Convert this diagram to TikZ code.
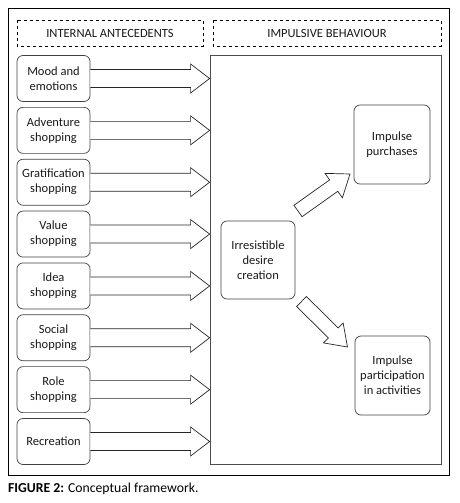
\documentclass[tikz,border=0pt]{standalone}
\usepackage{fontspec}
\setmainfont{Carlito}
\usetikzlibrary{calc}
\newcommand\blockarr[6]{% tail, tip, shaft hw, head hw, head length, closing
  \coordinate (hb) at ($(#2)!#5!(#1)$);
  \draw[arr] ($(#1)!#3!90:(#2)$) -- ($(hb)!#3!90:(#2)$) -- ($(hb)!#4!90:(#2)$) -- (#2)
    -- ($(hb)!#4!-90:(#2)$) -- ($(hb)!#3!-90:(#2)$) -- ($(#1)!#3!-90:(#2)$) #6;
}
\begin{document}
\begin{tikzpicture}[x=1pt,y=-1pt,
  box/.style={draw=black!75, line width=0.7pt, rounded corners=6pt, align=center,
    font=\fontsize{12.5}{15}\selectfont, text=black!90, inner sep=1pt},
  lbox/.style={box, minimum width=73pt, minimum height=46pt},
  hdr/.style={draw=black, dashed, line width=0.7pt},
  arr/.style={draw=black!85, line width=0.7pt, fill=white, line join=miter}]
\useasboundingbox (0,0) rectangle (459,503);
\draw[line width=1pt] (8,9) rectangle (449,475);
\draw[hdr] (17,20) rectangle (203,46);
\draw[hdr] (213,20) rectangle (441,46);
\node[font=\fontsize{12.5}{14}\selectfont, text=black!90] (h1) at (110,33) {INTERNAL ANTECEDENTS};
\node[font=\fontsize{12.5}{14}\selectfont, text=black!90] (h2) at (327,33) {IMPULSIVE BEHAVIOUR};
\node[draw=black!70, line width=0.8pt, minimum width=231pt, minimum height=409pt, inner sep=0pt] (big) at (325.5,259.5) {};
\foreach \n/\t [count=\i from 0] in {m1/{Mood and\\emotions}, m2/{Adventure\\shopping}, m3/{Gratification\\shopping}, m4/{Value\\shopping}, m5/{Idea\\shopping}, m6/{Social\\shopping}, m7/{Role\\shopping}, m8/{Recreation}}{
  \node[lbox] (\n) at (53.5, 78.5+51.857*\i) {\t};
  \coordinate (\n t) at (big.west |- \n.east);
  \blockarr{\n.east}{\n t}{9pt}{14.5pt}{19pt}{}
}
\node[box, minimum width=74pt, minimum height=78pt] (desire) at (258,260) {Irresistible\\desire\\creation};
\node[box, minimum width=76pt, minimum height=79pt] (purch) at (392,144.5) {Impulse\\purchases};
\node[box, minimum width=75pt, minimum height=79pt] (part) at (392.5,375.5) {Impulse\\participation\\in activities};
\coordinate (a1) at (298,211);
\coordinate (b1) at (350,174);
\coordinate (a2) at (301.5,301.5);
\coordinate (b2) at (347.5,347);
\blockarr{a1}{b1}{7pt}{15pt}{20pt}{-- cycle}
\blockarr{a2}{b2}{7pt}{14pt}{20pt}{-- cycle}
\node[anchor=west, font=\fontsize{13.7}{16}\selectfont, inner sep=0pt] (cap) at (8,489) {\textbf{FIGURE 2:} Conceptual framework.};
\end{tikzpicture}
\end{document}
